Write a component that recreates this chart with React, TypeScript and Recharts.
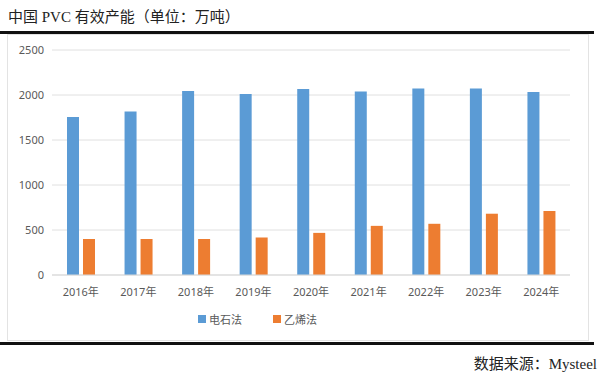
import { Bar, BarChart, CartesianGrid, Legend, XAxis, YAxis } from "recharts"

const years = ["2016年", "2017年", "2018年", "2019年", "2020年", "2021年", "2022年", "2023年", "2024年"]
const calciumCarbide = [1755, 1818, 2045, 2012, 2066, 2040, 2073, 2073, 2034]
const ethylene = [400, 400, 400, 418, 468, 546, 569, 681, 712]
const yTicks = [0, 500, 1000, 1500, 2000, 2500]

const BLUE = "#5B9BD5"
const ORANGE = "#ED7D31"
const TICK_FONT = "'Noto Sans', 'Noto Sans CJK SC', sans-serif"
const SERIF_FONT = "'Liberation Serif', 'Noto Sans CJK SC', serif"

const chartData = years.map((year, i) => ({
  year,
  电石法: calciumCarbide[i],
  乙烯法: ethylene[i],
}))

const renderLegend = () => (
  <div style={{ display: "flex", alignItems: "center", fontFamily: TICK_FONT, fontSize: 11, color: "#595959" }}>
    {[
      { name: "电石法", color: BLUE },
      { name: "乙烯法", color: ORANGE },
    ].map((item) => (
      <div key={item.name} style={{ display: "flex", alignItems: "center", marginRight: 31 }}>
        <span style={{ width: 8, height: 8, background: item.color, marginRight: 3, display: "inline-block" }} />
        <span>{item.name}</span>
      </div>
    ))}
  </div>
)

export default function App() {
  return (
    <div style={{ position: "absolute", left: 0, top: 0, width: 600, height: 376, background: "#fff", overflow: "hidden" }}>
      {/* 标题 */}
      <div style={{ position: "absolute", left: 8, top: 5, fontFamily: SERIF_FONT, fontSize: 15, color: "#222", whiteSpace: "nowrap" }}>
        中国 PVC 有效产能（单位：万吨）
      </div>
      <div style={{ position: "absolute", left: 0, top: 31, width: 594, height: 3, background: "#111" }} />

      {/* 图表区 */}
      <div style={{ position: "absolute", left: 7, top: 34, width: 580, height: 305, border: "1px solid #e3e3e3" }} />
      <div style={{ position: "absolute", left: 7, top: 34 }}>
        <BarChart
          width={581}
          height={306}
          data={chartData}
          margin={{ top: 16, right: 18, left: 0, bottom: 19 }}
          barSize={12}
          barGap={4}
        >
          <CartesianGrid vertical={false} stroke="#e0e0e0" />
          <XAxis
            dataKey="year"
            tickLine={false}
            axisLine={{ stroke: "#d9d9d9" }}
            tick={{ fill: "#595959", fontSize: 11, fontFamily: TICK_FONT }}
            tickMargin={7}
            interval={0}
            height={30}
          />
          <YAxis
            ticks={yTicks}
            domain={[0, 2500]}
            tickLine={false}
            axisLine={false}
            width={45}
            tick={{ fill: "#595959", fontSize: 11, fontFamily: TICK_FONT }}
          />
          <Legend content={renderLegend} wrapperStyle={{ left: 191, top: 277, width: "auto" }} />
          <Bar dataKey="电石法" fill={BLUE} isAnimationActive={false} />
          <Bar dataKey="乙烯法" fill={ORANGE} isAnimationActive={false} />
        </BarChart>
      </div>
      <div style={{ position: "absolute", left: 0, top: 342, width: 594, height: 3, background: "#111" }} />

      {/* 数据来源 */}
      <div style={{ position: "absolute", right: 3, top: 352, fontFamily: SERIF_FONT, fontSize: 15, color: "#222", whiteSpace: "nowrap" }}>
        数据来源：Mysteel
      </div>
    </div>
  )
}
